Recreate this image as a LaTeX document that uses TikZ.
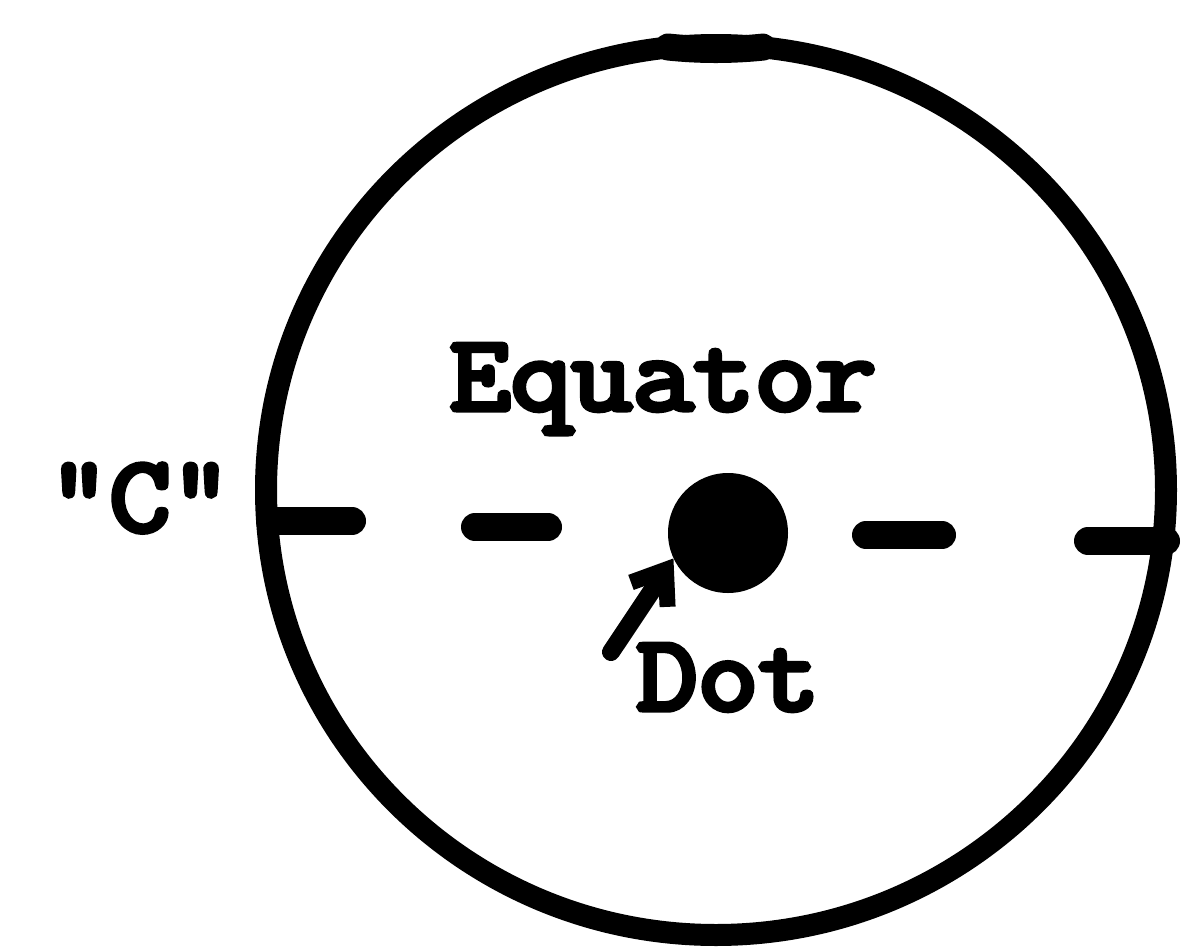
\documentclass[tikz,border=0pt]{standalone}
\usepackage{fontspec}
\newfontfamily\typew[FakeBold=5]{Latin Modern Mono}
\usetikzlibrary{arrows.meta}
\tikzset{
  outline/.style={line width=22bp},
  dashmark/.style={line width=28bp, line cap=round},
  lbl/.style={font=\fontsize{108}{120}\selectfont\typew, inner sep=0pt, anchor=base, xscale=1.1, transform shape},
  pointer/.style={line width=18bp, line cap=round, -{Straight Barb[length=30bp, width=44bp, line width=16bp]}}
}
\begin{document}
\begin{tikzpicture}[x=1bp, y=-1bp]
\useasboundingbox (0,0) rectangle (1198,952);
% globe outline
\draw[outline] (716,490) ellipse [x radius=450, y radius=445];
\draw[line width=27bp, line cap=round] (668,47) arc [start angle=96.1, end angle=84.0, x radius=450, y radius=443];
% central dot
\node[circle, fill=black, minimum size=120bp, inner sep=0pt] (dot) at (728,533) {};
% equator dashes
\coordinate (d1a) at (270,521); \coordinate (d1b) at (352,521);
\coordinate (d2a) at (475,527); \coordinate (d2b) at (548,527);
\coordinate (d3a) at (866,535); \coordinate (d3b) at (942,535);
\coordinate (d4a) at (1088,541); \coordinate (d4b) at (1166,541);
\draw[dashmark] (d1a) -- (d1b);
\draw[dashmark] (d2a) -- (d2b);
\draw[dashmark] (d3a) -- (d3b);
\draw[dashmark] (d4a) -- (d4b);
% labels
\node[lbl] (equator) at (663,410) {Equator};
\node[lbl] (cmark) at (140,531) {"C"};
\node[lbl] (dotlbl) at (728,710) {Dot};
% pointer arrow
\coordinate (tail) at (611,652);
\draw[pointer] (tail) -- (dot.205);
\end{tikzpicture}
\end{document}
